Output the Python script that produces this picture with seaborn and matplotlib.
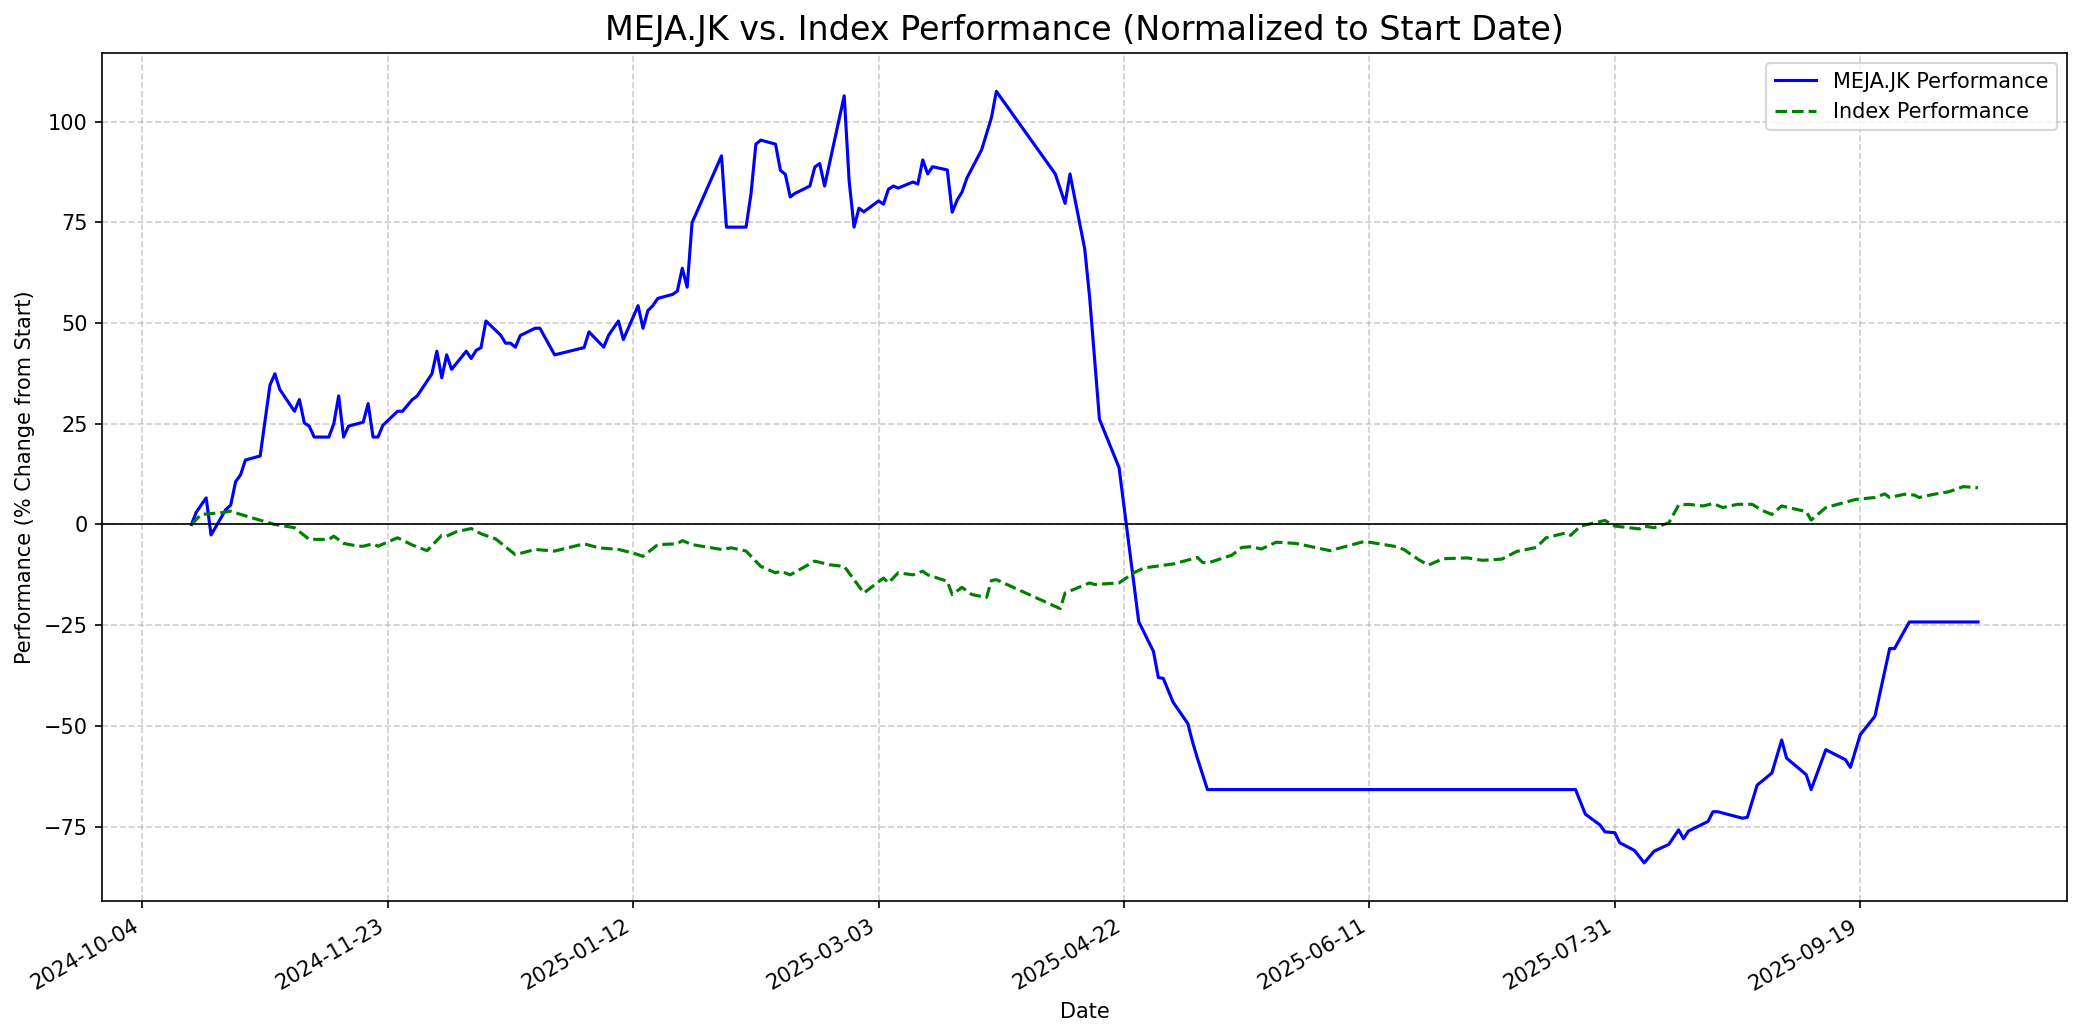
import numpy as np
import pandas as pd
import matplotlib
matplotlib.use("Agg")
import matplotlib.pyplot as plt
import matplotlib.dates as mdates
from matplotlib.ticker import MultipleLocator
import seaborn as sns

START_DATE = "2024-10-14"

# MEJA.JK performance: days since start and % change
stock_days = [0, 1, 3, 4, 7, 8, 9, 10, 11, 14, 16, 17, 18, 21, 22, 23, 24, 25, 28, 29,
              30, 31, 32, 35, 36, 37, 38, 39, 42, 43, 45, 46, 49, 50, 51, 52, 53, 56, 57, 58,
              59, 60, 63, 64, 65, 66, 67, 70, 71, 74, 80, 81, 84, 85, 87, 88, 91, 92, 93, 94,
              95, 98, 99, 100, 101, 102, 108, 109, 113, 114, 115, 116, 119, 120, 121, 122, 123, 126, 127, 128,
              129, 133, 134, 135, 136, 137, 140, 141, 142, 143, 144, 147, 148, 149, 150, 151, 154, 155, 156, 157,
              158, 161, 162, 163, 164, 176, 178, 179, 182, 183, 185, 189, 193, 196, 197, 198, 200, 203, 204, 205,
              207, 282, 284, 287, 288, 290, 291, 294, 296, 298, 301, 303, 304, 305, 309, 310, 311, 316, 317, 319,
              322, 324, 325, 329, 330, 333, 337, 338, 340, 343, 346, 347, 350, 364]
stock_perf = [0.0, 3.1, 6.6, -2.6, 3.7, 4.8, 10.6, 12.3, 16.0, 17.0, 34.6, 37.4, 33.5, 28.1, 31.0, 25.2, 24.4, 21.7, 21.7, 25.0,
              31.9, 21.7, 24.4, 25.4, 30.0, 21.7, 21.7, 24.6, 28.1, 28.1, 31.0, 31.9, 37.4, 43.0, 36.4, 42.1, 38.5, 43.0, 41.2, 43.2,
              43.9, 50.5, 47.0, 45.0, 45.0, 44.0, 46.9, 48.7, 48.7, 42.1, 43.9, 47.8, 44.0, 47.0, 50.5, 45.9, 54.3, 48.7, 53.1, 54.3,
              56.1, 57.1, 57.9, 63.6, 58.9, 74.9, 91.5, 73.8, 73.8, 82.0, 94.4, 95.4, 94.4, 87.9, 86.9, 81.3, 82.2, 84.0, 88.7, 89.6,
              84.0, 106.4, 85.3, 73.8, 78.5, 77.6, 80.3, 79.5, 83.2, 84.0, 83.5, 85.0, 84.5, 90.5, 87.0, 88.8, 88.0, 77.5, 80.5, 82.5,
              86.0, 93.0, 97.0, 101.0, 107.5, 87.0, 79.7, 87.0, 68.4, 56.4, 26.1, 14.1, -24.1, -31.5, -38.0, -38.2, -44.1, -49.4, -54.1, -58.2,
              -65.8, -65.8, -71.9, -74.6, -76.3, -76.5, -79.0, -80.9, -84.0, -81.1, -79.4, -75.8, -78.0, -76.1, -73.7, -71.3, -71.3, -72.9, -72.7, -64.7,
              -61.7, -53.5, -58.0, -62.1, -65.8, -55.9, -58.4, -60.3, -52.2, -47.6, -30.8, -30.8, -24.2, -24.2]

# Index performance: days since start and % change
index_days = [0, 2, 6, 8, 10, 15, 17, 21, 24, 28, 29, 31, 34, 35, 37, 38, 42, 45, 48, 51,
              52, 54, 57, 59, 62, 66, 70, 74, 80, 83, 87, 90, 92, 95, 99, 100, 102, 108, 110, 113,
              116, 119, 120, 122, 127, 130, 133, 135, 137, 141, 142, 144, 147, 149, 150, 154, 155, 157, 159, 162,
              163, 164, 177, 178, 183, 184, 189, 192, 194, 200, 205, 206, 207, 212, 214, 216, 218, 221, 225, 232,
              239, 245, 247, 250, 252, 255, 260, 263, 267, 270, 274, 276, 280, 281, 283, 288, 290, 295, 296, 298,
              301, 303, 305, 308, 310, 312, 315, 318, 320, 322, 324, 329, 330, 333, 336, 339, 343, 345, 346, 349,
              351, 352, 355, 358, 361, 364]
index_perf = [0.0, 2.5, 2.9, 3.3, 2.5, 0.7, 0.0, -0.8, -3.7, -3.7, -2.9, -4.7, -5.4, -5.4, -4.8, -5.4, -3.3, -5.1, -6.5, -2.7,
              -2.9, -1.8, -1.0, -2.3, -3.6, -7.5, -6.2, -6.6, -4.8, -5.8, -6.2, -7.1, -7.9, -5.0, -4.8, -4.0, -5.0, -6.2, -5.8, -6.6,
              -10.4, -12.0, -11.6, -12.5, -9.1, -10.0, -10.4, -13.7, -17.0, -13.3, -14.5, -12.0, -12.5, -11.6, -12.5, -14.1, -17.4, -15.6, -17.4, -18.1,
              -13.9, -13.7, -20.9, -17.0, -14.5, -14.9, -14.5, -12.0, -10.8, -9.8, -8.2, -9.4, -9.6, -7.6, -5.7, -5.5, -6.1, -4.4, -4.7, -6.5,
              -4.2, -5.4, -6.2, -8.7, -10.1, -8.5, -8.3, -8.9, -8.6, -6.7, -5.7, -3.3, -2.1, -2.7, -0.4, 1.0, -0.4, -1.1, -0.4, -0.8,
              0.4, 4.8, 5.0, 4.6, 5.2, 4.2, 5.0, 5.0, 3.5, 2.5, 4.6, 3.2, 1.1, 4.2, 5.2, 6.2, 6.7, 7.6, 6.7, 7.5,
              7.3, 6.7, 7.5, 8.1, 9.4, 9.1]

series_labels = ["MEJA.JK Performance", "Index Performance"]
title = "MEJA.JK vs. Index Performance (Normalized to Start Date)"

start = pd.Timestamp(START_DATE)
df_stock = pd.DataFrame({"Date": start + pd.to_timedelta(stock_days, unit="D"), "Perf": stock_perf})
df_index = pd.DataFrame({"Date": start + pd.to_timedelta(index_days, unit="D"), "Perf": index_perf})

fig, ax = plt.subplots(figsize=(2084 / 150, 1035 / 150), dpi=150)

sns.lineplot(data=df_stock, x="Date", y="Perf", ax=ax, color="blue", linewidth=1.5,
             label=series_labels[0], estimator=None)
sns.lineplot(data=df_index, x="Date", y="Perf", ax=ax, color="green", linewidth=1.5,
             linestyle="--", label=series_labels[1], estimator=None)

ax.axhline(0, color="black", linewidth=0.8)
ax.set_title(title, fontsize=16)
ax.set_xlabel("Date")
ax.set_ylabel("Performance (% Change from Start)")
ax.grid(True, linestyle="--", alpha=0.6)
ax.yaxis.set_major_locator(MultipleLocator(25))
ax.xaxis.set_major_locator(MultipleLocator(50))
ax.xaxis.set_major_formatter(mdates.DateFormatter("%Y-%m-%d"))
ax.legend(loc="upper right")
fig.autofmt_xdate()
fig.subplots_adjust(left=0.049, right=0.992, top=0.949, bottom=0.129)
fig.savefig("out.png", dpi=150)
